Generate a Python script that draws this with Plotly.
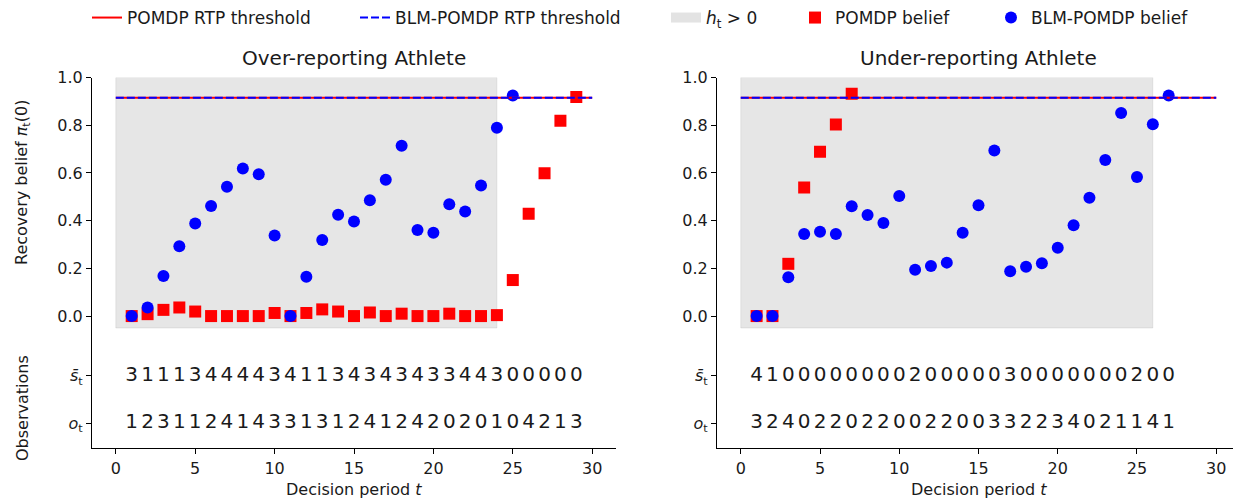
import plotly.graph_objects as go

# ---------------- data ----------------
periods_over_blm = list(range(1, 26))
blm_belief_over = [0.0, 0.036, 0.168, 0.293, 0.388, 0.461, 0.542, 0.619, 0.594, 0.338,
                   0.0, 0.165, 0.319, 0.425, 0.396, 0.485, 0.571, 0.714, 0.361, 0.349,
                   0.469, 0.438, 0.547, 0.789, 0.925]
periods_over_pomdp = list(range(1, 30))
pomdp_belief_over = [0.0, 0.008, 0.026, 0.036, 0.019, 0.0, 0.0, 0.0, 0.0, 0.013,
                     0.0, 0.013, 0.028, 0.019, 0.0, 0.015, 0.0, 0.01, 0.0, 0.0,
                     0.01, 0.0, 0.0, 0.004, 0.151, 0.429, 0.599, 0.819, 0.918]

periods_under_blm = list(range(1, 28))
blm_belief_under = [0.0, 0.0, 0.163, 0.344, 0.353, 0.344, 0.46, 0.424, 0.39, 0.503,
                    0.194, 0.21, 0.224, 0.349, 0.465, 0.694, 0.188, 0.207, 0.221, 0.286,
                    0.381, 0.496, 0.654, 0.851, 0.583, 0.804, 0.925]
periods_under_pomdp = list(range(1, 8))
pomdp_belief_under = [0.0, 0.0, 0.219, 0.539, 0.689, 0.803, 0.932]

threshold_pomdp = 0.915
threshold_blm = 0.915
threshold_span = [0, 30]

shade_end_over = 24
shade_end_under = 26
shade_low, shade_high = -0.05, 1.0

obs_s_over = [3, 1, 1, 1, 3, 4, 4, 4, 4, 3, 4, 1, 1, 3, 4, 3, 4, 3, 4, 3, 3, 4, 4, 3, 0, 0, 0, 0, 0]
obs_o_over = [1, 2, 3, 1, 1, 2, 4, 1, 4, 3, 3, 1, 3, 1, 2, 4, 1, 2, 4, 2, 0, 2, 0, 1, 0, 4, 2, 1, 3]
obs_s_under = [4, 1, 0, 0, 0, 0, 0, 0, 0, 0, 2, 0, 0, 0, 0, 0, 3, 0, 0, 0, 0, 0, 0, 0, 2, 0, 0]
obs_o_under = [3, 2, 4, 0, 2, 2, 0, 2, 2, 0, 0, 2, 2, 0, 0, 3, 3, 2, 2, 3, 4, 0, 2, 1, 1, 4, 1]

row_s_y = -0.25
row_o_y = -0.45

x_ticks = [0, 5, 10, 15, 20, 25, 30]
y_ticks = [row_o_y, row_s_y, 0.0, 0.2, 0.4, 0.6, 0.8, 1.0]
y_ticktext = ["<i>o</i><sub>t</sub>", "<i>s̄</i><sub>t</sub>", "0.0", "0.2", "0.4", "0.6", "0.8", "1.0"]

# ---------------- style ----------------
FONT = "DejaVu Sans"
RED = "#ff0000"
BLUE = "#0000ff"
GRAY_FILL = "rgba(128,128,128,0.2)"
TXT = "#1a1a1a"

# page body has an 8px margin; size the figure so it fits the 1241x500 window
OFF = 8
W, H = 1241 - OFF, 500 - OFF


def px(xp):
    return (xp - OFF) / W


def py(yp):
    return 1 - (yp - OFF) / H


fig = go.Figure()

panels = [
    dict(xa="x", ya="y", shade_end=shade_end_over,
         tb=periods_over_blm, vb=blm_belief_over,
         tp=periods_over_pomdp, vp=pomdp_belief_over,
         s=obs_s_over, o=obs_o_over, leg=True),
    dict(xa="x2", ya="y2", shade_end=shade_end_under,
         tb=periods_under_blm, vb=blm_belief_under,
         tp=periods_under_pomdp, vp=pomdp_belief_under,
         s=obs_s_under, o=obs_o_under, leg=False),
]

for p in panels:
    xa, ya = p["xa"], p["ya"]
    se = p["shade_end"]
    fig.add_trace(go.Scatter(
        x=[0, se, se, 0, 0], y=[shade_low, shade_low, shade_high, shade_high, shade_low],
        mode="lines", fill="toself", fillcolor=GRAY_FILL,
        line=dict(color="rgba(128,128,128,0.15)", width=1),
        showlegend=False, hoverinfo="skip", xaxis=xa, yaxis=ya))
    fig.add_trace(go.Scatter(
        x=p["tp"], y=p["vp"], mode="markers", name="POMDP belief",
        marker=dict(symbol="square", size=12, color=RED, line=dict(width=0)),
        showlegend=p["leg"], legend="legend4", xaxis=xa, yaxis=ya))
    fig.add_trace(go.Scatter(
        x=p["tb"], y=p["vb"], mode="markers", name="BLM-POMDP belief",
        marker=dict(symbol="circle", size=12, color=BLUE, line=dict(width=0)),
        showlegend=p["leg"], legend="legend5", xaxis=xa, yaxis=ya))
    fig.add_trace(go.Scatter(
        x=threshold_span, y=[threshold_pomdp] * 2, mode="lines", name="POMDP RTP threshold",
        line=dict(color=RED, width=2), showlegend=p["leg"], legend="legend",
        xaxis=xa, yaxis=ya))
    fig.add_trace(go.Scatter(
        x=threshold_span, y=[threshold_blm] * 2, mode="lines", name="BLM-POMDP RTP threshold",
        line=dict(color=BLUE, width=2, dash="8px,3px"), showlegend=p["leg"], legend="legend2",
        xaxis=xa, yaxis=ya))
    fig.add_trace(go.Scatter(
        x=list(range(1, len(p["s"]) + 1)), y=[row_s_y] * len(p["s"]),
        text=[str(v) for v in p["s"]], mode="text",
        textfont=dict(family=FONT, size=20, color=TXT),
        showlegend=False, hoverinfo="skip", xaxis=xa, yaxis=ya))
    fig.add_trace(go.Scatter(
        x=list(range(1, len(p["o"]) + 1)), y=[row_o_y] * len(p["o"]),
        text=[str(v) for v in p["o"]], mode="text",
        textfont=dict(family=FONT, size=20, color=TXT),
        showlegend=False, hoverinfo="skip", xaxis=xa, yaxis=ya))

# legend-only entry for the shaded region
fig.add_trace(go.Scatter(
    x=[None], y=[None], mode="lines", name="<i>h</i><sub>t</sub> > 0",
    line=dict(color="#e3e3e3", width=13), legend="legend3", showlegend=True))

axis_common = dict(
    showline=True, linecolor="black", linewidth=1.2, ticks="outside", ticklen=5,
    tickwidth=1.2, tickcolor="black", showgrid=False, zeroline=False,
    tickfont=dict(family=FONT, size=16, color=TXT), mirror=False)

xd1 = [px(92), px(616)]
xd2 = [px(717), px(1240)]
yd = [py(448), py(77.5)]

fig.update_layout(
    width=W, height=H, plot_bgcolor="white", paper_bgcolor="white",
    margin=dict(l=0, r=0, t=0, b=0, autoexpand=False),
    font=dict(family=FONT, size=16, color=TXT),
    xaxis=dict(domain=xd1, range=[-1.5, 31.5], tickvals=x_ticks, anchor="y",
               ticklabelstandoff=1, **axis_common),
    yaxis=dict(domain=yd, range=[-0.553, 1.0], tickvals=y_ticks, ticktext=y_ticktext,
               anchor="x", **axis_common),
    xaxis2=dict(domain=xd2, range=[-1.5, 31.5], tickvals=x_ticks, anchor="y2",
                ticklabelstandoff=1, **axis_common),
    yaxis2=dict(domain=yd, range=[-0.553, 1.0], tickvals=y_ticks, ticktext=y_ticktext,
                anchor="x2", **axis_common),
)

leg_style = dict(orientation="h", yanchor="middle", y=py(18), xanchor="left",
                 bgcolor="rgba(0,0,0,0)", borderwidth=0,
                 font=dict(family=FONT, size=17, color=TXT), itemwidth=30)
# legend x so that item text starts at the reference position (text = x + 40)
fig.update_layout(
    legend=dict(x=px(127 - 40), **leg_style),
    legend2=dict(x=px(395 - 40), **leg_style),
    legend3=dict(x=px(706 - 40), **leg_style),
    legend4=dict(x=px(835 - 40), **leg_style),
    legend5=dict(x=px(1031 - 40), **leg_style),
)

annots = [
    dict(text="Over-reporting Athlete", x=(xd1[0] + xd1[1]) / 2, y=py(58), size=20),
    dict(text="Under-reporting Athlete", x=(xd2[0] + xd2[1]) / 2, y=py(58), size=20),
    dict(text="Decision period <i>t</i>", x=(xd1[0] + xd1[1]) / 2, y=py(489), size=16),
    dict(text="Decision period <i>t</i>", x=(xd2[0] + xd2[1]) / 2, y=py(489), size=16),
]
for a in annots:
    fig.add_annotation(text=a["text"], x=a["x"], y=a["y"], xref="paper", yref="paper",
                       showarrow=False, xanchor="center", yanchor="middle",
                       font=dict(family=FONT, size=a["size"], color=TXT))

fig.add_annotation(text="Recovery belief <i>π</i><sub>t</sub>(0)", x=px(22), y=py(183),
                   xref="paper", yref="paper", showarrow=False, textangle=-90,
                   xanchor="center", yanchor="middle",
                   font=dict(family=FONT, size=16, color=TXT))
fig.add_annotation(text="Observations", x=px(22), y=py(408),
                   xref="paper", yref="paper", showarrow=False, textangle=-90,
                   xanchor="center", yanchor="middle",
                   font=dict(family=FONT, size=16, color=TXT))

fig.write_html("out.html")
